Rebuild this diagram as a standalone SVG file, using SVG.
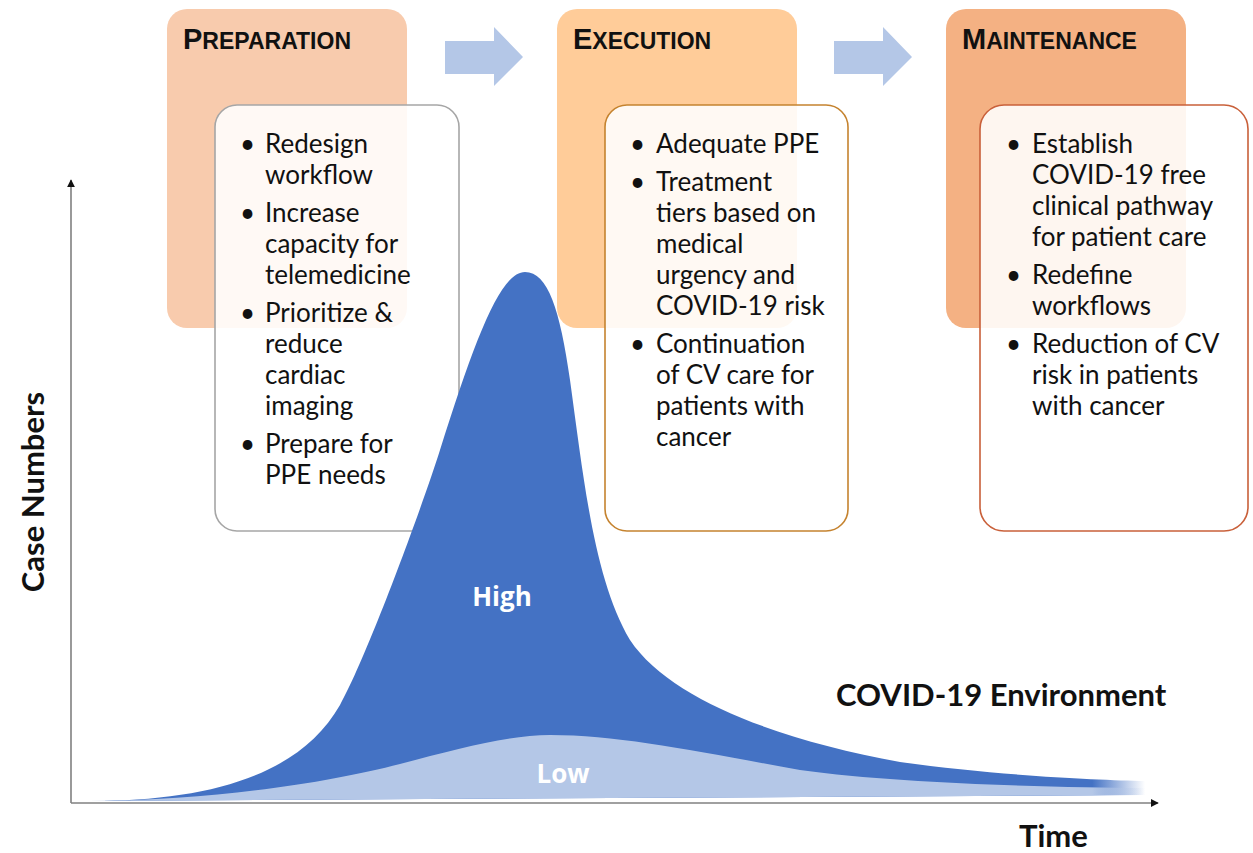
<svg xmlns="http://www.w3.org/2000/svg" width="1253" height="853" viewBox="0 0 1253 853">
<style>
.phase{stroke:none}
.inner{fill:#ffffff;fill-opacity:0.88;stroke-width:1.6}
.title{font-family:"Liberation Sans",Arial,sans-serif;font-weight:bold;fill:#111}
.cap{font-size:29px}
.sc{font-size:23px}
.bul{font-family:Lato,"Open Sans",sans-serif;font-size:26px;fill:#111}
.lab{font-family:Lato,"Open Sans",sans-serif;font-size:31px;font-weight:bold;fill:#111}
.wlab{font-family:"Open Sans","Noto Sans",sans-serif;font-size:26px;font-weight:bold;fill:#ffffff}
.blk{fill:#B4C7E7}
.axis{stroke:#808080;stroke-width:1.6;fill:none}
</style>
<defs>
<marker id="ah" viewBox="0 0 10 10" refX="9" refY="5" markerWidth="8" markerHeight="8" markerUnits="userSpaceOnUse" orient="auto">
<path d="M0,0 L10,5 L0,10 Z" fill="#111"/>
</marker>
<linearGradient id="fadeHigh" x1="0" y1="0" x2="1" y2="0" gradientUnits="objectBoundingBox">
<stop offset="0" stop-color="#4472C4"/>
<stop offset="0.95" stop-color="#4472C4"/>
<stop offset="1" stop-color="#4472C4" stop-opacity="0"/>
</linearGradient>
<linearGradient id="fadeLow" x1="0" y1="0" x2="1" y2="0" gradientUnits="objectBoundingBox">
<stop offset="0" stop-color="#B4C7E7"/>
<stop offset="0.95" stop-color="#B4C7E7"/>
<stop offset="1" stop-color="#B4C7E7" stop-opacity="0"/>
</linearGradient>
</defs>

<g id="preparation">
<rect class="phase" x="167" y="9" width="240" height="319" rx="20" fill="#F8CBAD"/>
<text class="title" x="183" y="49"><tspan class="cap">P</tspan><tspan class="sc">REPARATION</tspan></text>
<rect class="inner" x="215" y="105" width="244" height="426" rx="22" stroke="#A6A6A6"/>
<g class="bul">
<text x="240" y="153">•</text><text x="265" y="153">Redesign</text>
<text x="265" y="184">workflow</text>
<text x="240" y="222">•</text><text x="265" y="222">Increase</text>
<text x="265" y="253">capacity for</text>
<text x="265" y="284">telemedicine</text>
<text x="240" y="322">•</text><text x="265" y="322">Prioritize &amp;</text>
<text x="265" y="353">reduce</text>
<text x="265" y="384">cardiac</text>
<text x="265" y="415">imaging</text>
<text x="240" y="453">•</text><text x="265" y="453">Prepare for</text>
<text x="265" y="484">PPE needs</text>
</g>
</g>

<g id="execution">
<rect class="phase" x="557" y="9" width="240" height="319" rx="20" fill="#FFCC99"/>
<text class="title" x="573" y="49"><tspan class="cap">E</tspan><tspan class="sc">XECUTION</tspan></text>
<rect class="inner" x="605" y="105" width="243" height="426" rx="22" stroke="#C5832F"/>
<g class="bul">
<text x="630" y="153">•</text><text x="656" y="153">Adequate PPE</text>
<text x="630" y="191">•</text><text x="656" y="191">Treatment</text>
<text x="656" y="222">tiers based on</text>
<text x="656" y="253">medical</text>
<text x="656" y="284">urgency and</text>
<text x="656" y="315">COVID-19 risk</text>
<text x="630" y="353">•</text><text x="656" y="353">Continuation</text>
<text x="656" y="384">of CV care for</text>
<text x="656" y="415">patients with</text>
<text x="656" y="446">cancer</text>
</g>
</g>

<g id="maintenance">
<rect class="phase" x="946" y="9" width="240" height="319" rx="20" fill="#F4B183"/>
<text class="title" x="962" y="49"><tspan class="cap">M</tspan><tspan class="sc">AINTENANCE</tspan></text>
<rect class="inner" x="980" y="105" width="268" height="426" rx="24" stroke="#C9603A"/>
<g class="bul">
<text x="1006" y="153">•</text><text x="1032" y="153">Establish</text>
<text x="1032" y="184">COVID-19 free</text>
<text x="1032" y="215">clinical pathway</text>
<text x="1032" y="246">for patient care</text>
<text x="1006" y="284">•</text><text x="1032" y="284">Redefine</text>
<text x="1032" y="315">workflows</text>
<text x="1006" y="353">•</text><text x="1032" y="353">Reduction of CV</text>
<text x="1032" y="384">risk in patients</text>
<text x="1032" y="415">with cancer</text>
</g>
</g>

<g id="connectors">
<path class="blk" d="M445,41 L494,41 L494,27 L523,57 L494,86 L494,74 L445,74 Z"/>
<path class="blk" d="M834,41 L883,41 L883,27 L912,57 L883,86 L883,74 L834,74 Z"/>
</g>

<g id="chart">
<path id="high" fill="url(#fadeHigh)" d="M90 801 C 210 801, 300 775, 340 705 C 365 661, 420 513, 440 450 C 475 340, 500 272, 525 272 C 548 272, 560 310, 570 380 C 585 490, 595 580, 630 640 C 670 700, 780 740, 900 762 C 1000 776, 1100 780, 1145 781 L 1145 795 L 90 801 Z"/>
<path id="low" fill="url(#fadeLow)" d="M90 801 C 220 800, 330 782, 400 764 C 460 748, 510 735, 550 735 C 620 735, 700 752, 800 770 C 900 784, 1050 787, 1145 788 L 1145 795 L 90 801 Z"/>
<text class="wlab" x="502" y="606" text-anchor="middle">High</text>
<text class="wlab" x="563" y="783" text-anchor="middle">Low</text>
<path class="axis" d="M71,803 L71,180" marker-end="url(#ah)"/>
<path class="axis" d="M71,803 L1158,803" marker-end="url(#ah)"/>
<text class="lab" transform="translate(44,492) rotate(-90)" text-anchor="middle">Case Numbers</text>
<text class="lab" x="1019" y="847">Time</text>
<text class="lab" x="836" y="706">COVID-19 Environment</text>
</g>
</svg>
